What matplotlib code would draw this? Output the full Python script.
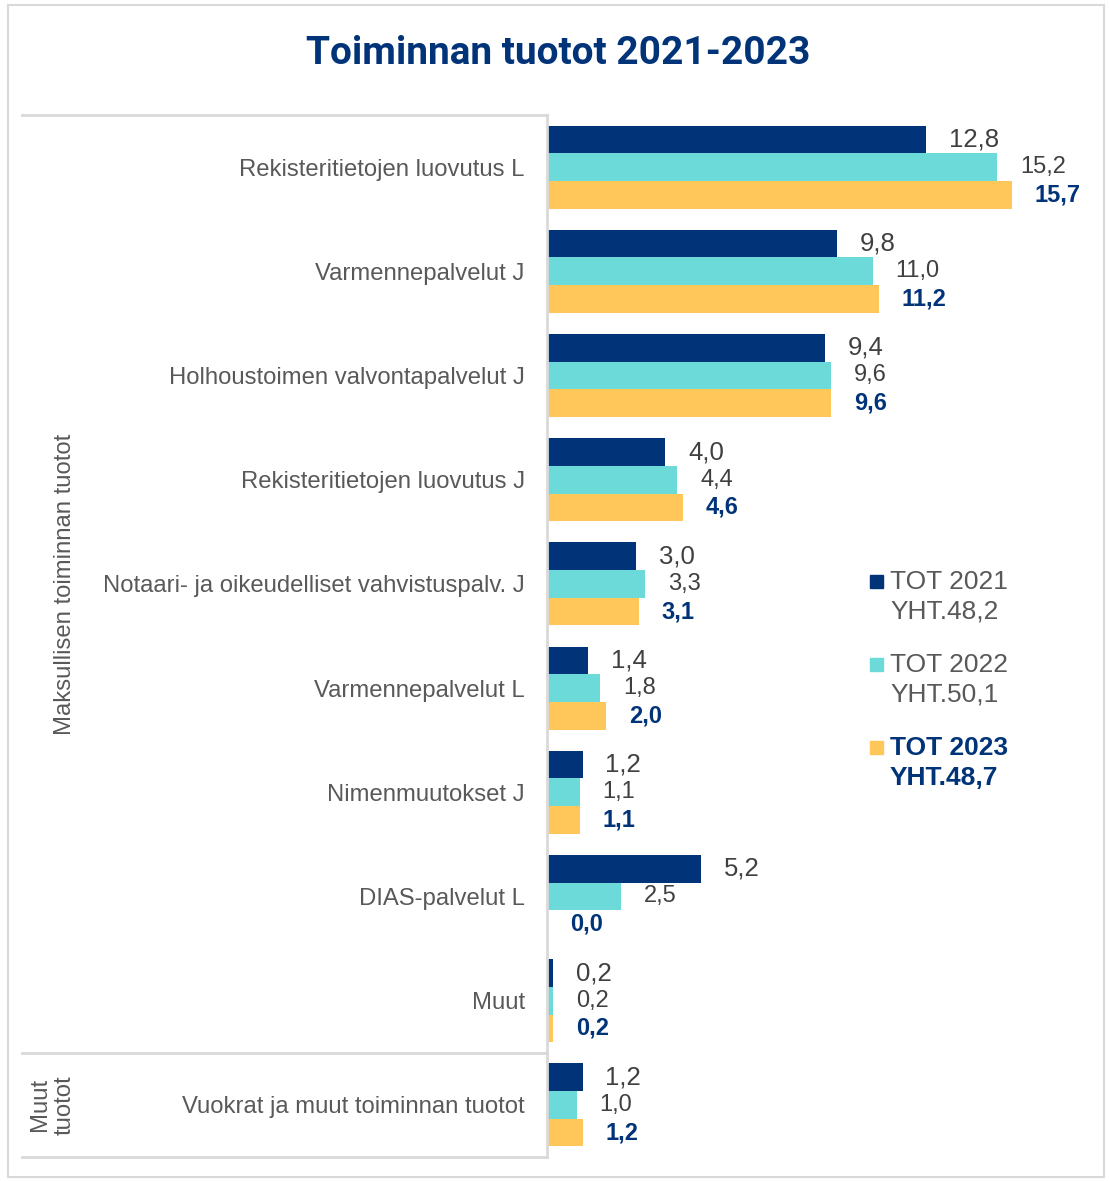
import matplotlib
matplotlib.use("Agg")
import matplotlib.pyplot as plt
from matplotlib.patches import Rectangle
from matplotlib.lines import Line2D

categories = [
    "Rekisteritietojen luovutus L",
    "Varmennepalvelut J",
    "Holhoustoimen valvontapalvelut J",
    "Rekisteritietojen luovutus J",
    "Notaari- ja oikeudelliset vahvistuspalv. J",
    "Varmennepalvelut L",
    "Nimenmuutokset J",
    "DIAS-palvelut L",
    "Muut",
    "Vuokrat ja muut toiminnan tuotot",
]
tot2021 = [12.8, 9.8, 9.4, 4.0, 3.0, 1.4, 1.2, 5.2, 0.2, 1.2]
tot2022 = [15.2, 11.0, 9.6, 4.4, 3.3, 1.8, 1.1, 2.5, 0.2, 1.0]
tot2023 = [15.7, 11.2, 9.6, 4.6, 3.1, 2.0, 1.1, 0.0, 0.2, 1.2]
series_labels = ["TOT 2021\nYHT.48,2", "TOT 2022\nYHT.50,1", "TOT 2023\nYHT.48,7"]
group_labels = ["Maksullisen toiminnan tuotot", "Muut\ntuotot"]
group_sizes = [9, 1]
title = "Toiminnan tuotot 2021-2023"

colors = ["#003378", "#6BDAD8", "#FFC65A"]
navy = "#003378"
gray_text = "#595959"
label_gray = "#404040"
line_gray = "#D9D9D9"

plt.rcParams["font.family"] = ["Liberation Sans", "DejaVu Sans"]
W, H = 1109, 1181
fig = plt.figure(figsize=(W / 100, H / 100), dpi=100)

# frame
fig.patches.append(Rectangle((8 / W, 4 / H), (1104 - 8) / W, (1176 - 4) / H,
                             transform=fig.transFigure, fill=False,
                             edgecolor=line_gray, linewidth=1.5))

x0, x1 = 547, 1090
ytop, ybot = 115, 1157
ax = fig.add_axes([x0 / W, (H - ybot) / H, (x1 - x0) / W, (ybot - ytop) / H])
pxu = 29.6
ax.set_xlim(0, (x1 - x0) / pxu)
n = len(categories)
ax.set_ylim(n - 0.5, -0.5)

bh = 0.265
series = [tot2021, tot2022, tot2023]
for i, (vals, c) in enumerate(zip(series, colors)):
    pos = [k + (i - 1) * bh for k in range(n)]
    ax.barh(pos, vals, height=bh, color=c, edgecolor="none")
    for p, v in zip(pos, vals):
        txt = f"{v:.1f}".replace(".", ",")
        if i == 0:
            kw = dict(color=label_gray, fontsize=18.5)
        elif i == 1:
            kw = dict(color=label_gray, fontsize=17)
        else:
            kw = dict(color=navy, fontsize=17, fontweight="bold")
        ax.annotate(txt, (v, p), xytext=(16.5, 0), textcoords="offset points",
                    ha="left", va="center", **kw)

ax.set_yticks(range(n))
ax.set_yticklabels(categories, fontsize=17.2, color=gray_text)
ax.tick_params(axis="y", length=0, pad=16)
ax.set_xticks([])
for s in ["top", "right", "bottom"]:
    ax.spines[s].set_visible(False)
ax.spines["left"].set_color(line_gray)
ax.spines["left"].set_linewidth(2)

# group separators and labels
xl = 22 / W
xa = x0 / W
def fy(py):
    return (H - py) / H
per = (ybot - ytop) / n
bounds = [ytop]
acc = 0
for g in group_sizes:
    acc += g
    bounds.append(ytop + acc * per)
for b in bounds:
    fig.add_artist(Line2D([xl, xa], [fy(b), fy(b)], color=line_gray, lw=2,
                          transform=fig.transFigure))
gx = [65, 52]
for i, gl in enumerate(group_labels):
    cy = (bounds[i] + bounds[i + 1]) / 2
    fig.text(gx[i] / W, fy(cy), gl, rotation=90, ha="center", va="center",
             fontsize=17.2, color=gray_text, linespacing=1.15)

# title
fig.text(558 / W, fy(53), title, ha="center", va="center", fontsize=28,
         fontweight="bold", color=navy, family=["Roboto", "DejaVu Sans"])

# legend
leg_y = [581, 664, 747]
for i, (lab, c) in enumerate(zip(series_labels, colors)):
    fig.patches.append(Rectangle((870 / W, fy(leg_y[i] + 7)), 13 / W, 13 / H,
                                 transform=fig.transFigure, color=c))
    kw = dict(color=gray_text) if i < 2 else dict(color=navy, fontweight="bold")
    fig.text(890 / W, fy(leg_y[i] - 11), lab, ha="left", va="top",
             fontsize=19, linespacing=1.3, **kw)

fig.savefig("out.png", dpi=100)
